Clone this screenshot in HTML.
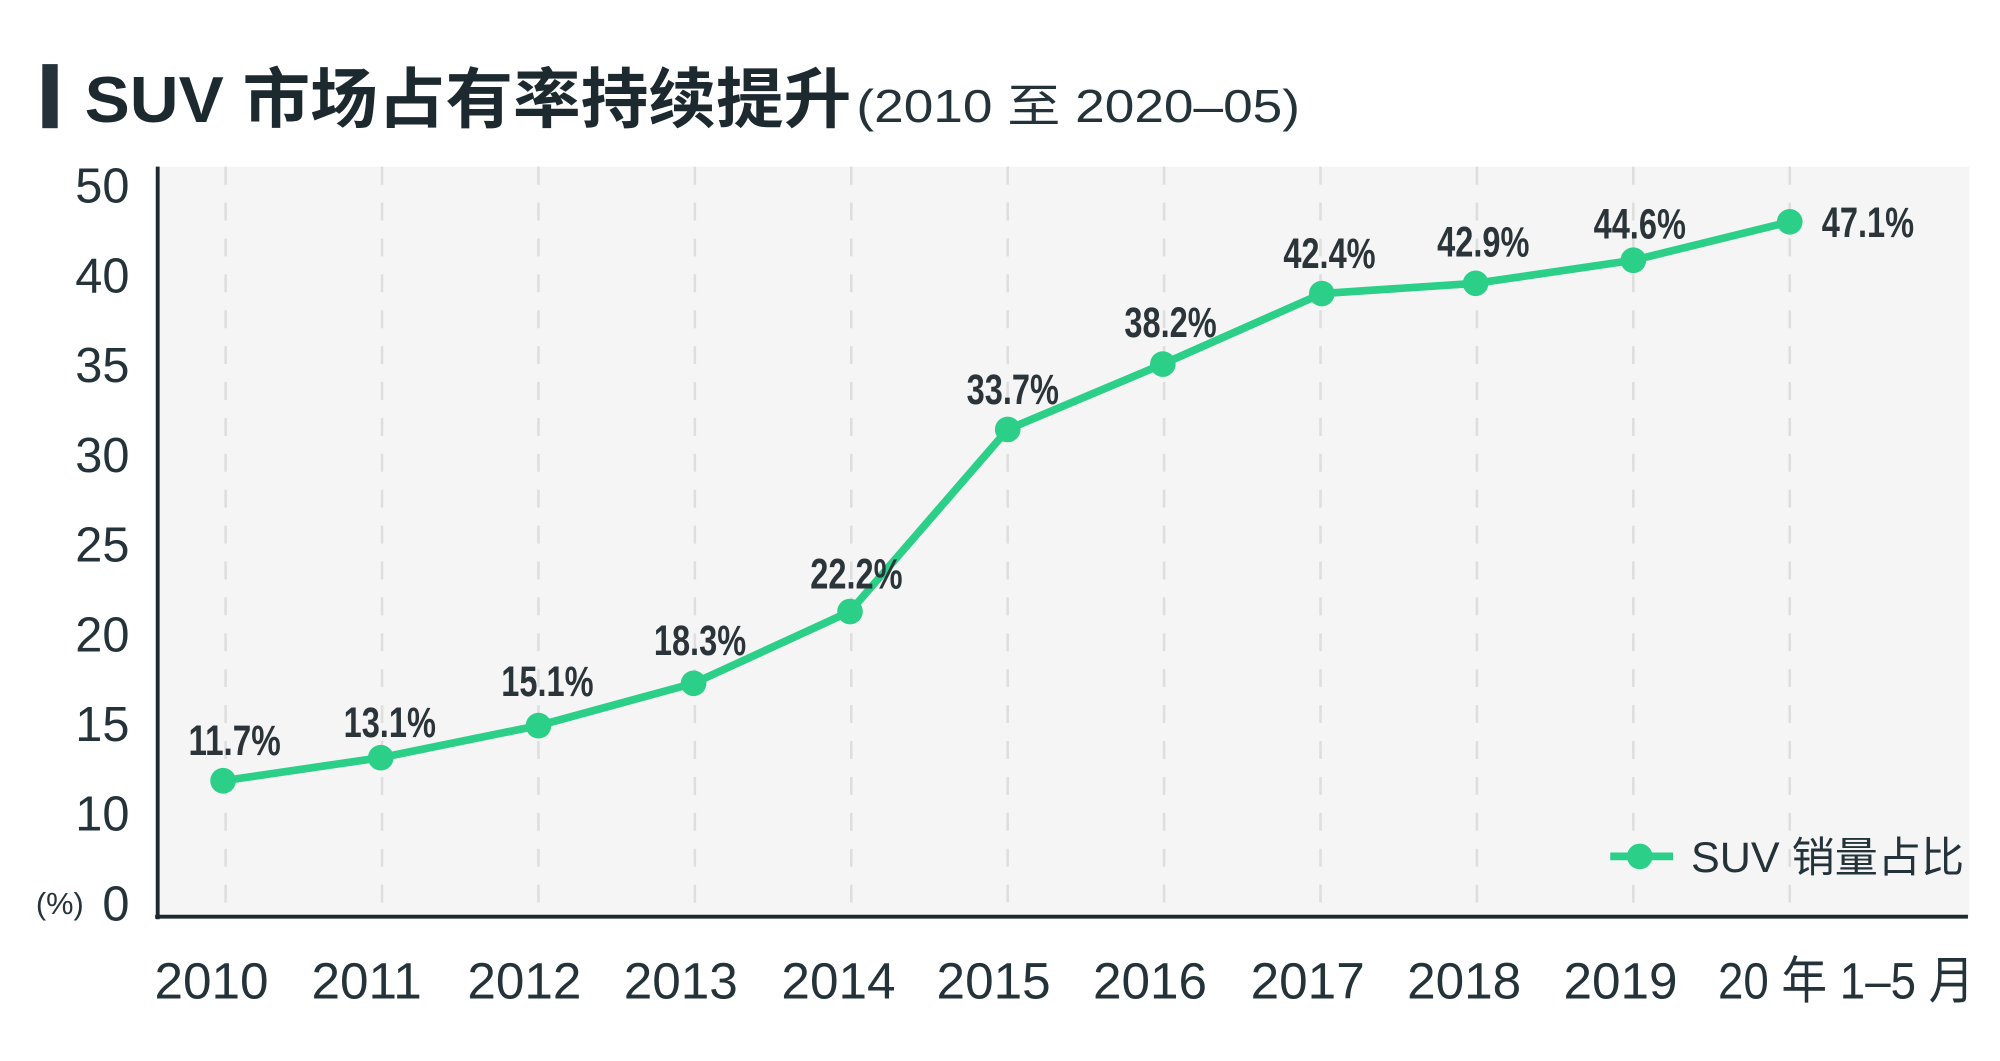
<!DOCTYPE html>
<html><head><meta charset="utf-8"><style>
html,body{margin:0;padding:0;background:#fff;}
svg{display:block;}
text{font-family:"Liberation Sans","Noto Sans CJK SC",sans-serif;fill:#24333a;}
.d{font-family:"Liberation Sans Narrow","Liberation Sans","Noto Sans CJK SC",sans-serif;font-weight:bold;font-size:33px;fill:#2a3439;}
</style></head><body>
<svg width="2000" height="1061" viewBox="0 0 1560 827.6" preserveAspectRatio="none" xmlns="http://www.w3.org/2000/svg">
<rect x="33" y="50" width="12" height="50" fill="#24333a"/>
<text x="66" y="95" font-size="51" textLength="598" lengthAdjust="spacingAndGlyphs" style="fill:#1c2a30;font-weight:bold">SUV 市场占有率持续提升</text>
<text x="668" y="95" font-size="36" textLength="346" lengthAdjust="spacingAndGlyphs">(2010 至 2020–05)</text>
<rect x="123" y="130" width="1413" height="586" fill="#f5f5f5"/>
<g stroke="#dedede" stroke-width="2" stroke-dasharray="14,14">
<line x1="176" y1="130" x2="176" y2="716"/><line x1="298" y1="130" x2="298" y2="716"/><line x1="420" y1="130" x2="420" y2="716"/><line x1="542" y1="130" x2="542" y2="716"/><line x1="664" y1="130" x2="664" y2="716"/><line x1="786" y1="130" x2="786" y2="716"/><line x1="908" y1="130" x2="908" y2="716"/><line x1="1030" y1="130" x2="1030" y2="716"/><line x1="1152" y1="130" x2="1152" y2="716"/><line x1="1274" y1="130" x2="1274" y2="716"/><line x1="1396" y1="130" x2="1396" y2="716"/>
</g>
<line x1="123" y1="130" x2="123" y2="717" stroke="#1c2a30" stroke-width="3"/>
<line x1="121" y1="715" x2="1535" y2="715" stroke="#1c2a30" stroke-width="3"/>
<g font-size="38" text-anchor="end">
<text x="101" y="158">50</text><text x="101" y="228">40</text><text x="101" y="298">35</text><text x="101" y="368">30</text><text x="101" y="438">25</text><text x="101" y="508">20</text><text x="101" y="578">15</text><text x="101" y="648">10</text><text x="101" y="718">0</text>
</g>
<text x="28" y="713" font-size="24">(%)</text>
<g font-size="40" text-anchor="middle">
<text x="165" y="779">2010</text><text x="286" y="779">2011</text><text x="409" y="779">2012</text><text x="531" y="779">2013</text><text x="654" y="779">2014</text><text x="775" y="779">2015</text><text x="897" y="779">2016</text><text x="1020" y="779">2017</text><text x="1142" y="779">2018</text><text x="1264" y="779">2019</text><text x="1440" y="779" textLength="200" lengthAdjust="spacingAndGlyphs">20 年 1–5 月</text>
</g>
<polyline fill="none" stroke="#2bcf88" stroke-width="6" stroke-linejoin="round" points="174,609 297,591 420,566 541,533 663,477 786,335 907,284 1031,229 1151,221 1274,203 1396,173"/>
<g fill="#2bcf88">
<circle cx="174" cy="609" r="10"/><circle cx="297" cy="591" r="10"/><circle cx="420" cy="566" r="10"/><circle cx="541" cy="533" r="10"/><circle cx="663" cy="477" r="10"/><circle cx="786" cy="335" r="10"/><circle cx="907" cy="284" r="10"/><circle cx="1031" cy="229" r="10"/><circle cx="1151" cy="221" r="10"/><circle cx="1274" cy="203" r="10"/><circle cx="1396" cy="173" r="10"/>
</g>
<g text-anchor="middle">
<text class="d" x="183" y="589" textLength="72" lengthAdjust="spacingAndGlyphs">11.7%</text><text class="d" x="304" y="575" textLength="72" lengthAdjust="spacingAndGlyphs">13.1%</text><text class="d" x="427" y="543" textLength="72" lengthAdjust="spacingAndGlyphs">15.1%</text><text class="d" x="546" y="511" textLength="72" lengthAdjust="spacingAndGlyphs">18.3%</text><text class="d" x="668" y="459" textLength="72" lengthAdjust="spacingAndGlyphs">22.2%</text><text class="d" x="790" y="315" textLength="72" lengthAdjust="spacingAndGlyphs">33.7%</text><text class="d" x="913" y="263" textLength="72" lengthAdjust="spacingAndGlyphs">38.2%</text><text class="d" x="1037" y="209" textLength="72" lengthAdjust="spacingAndGlyphs">42.4%</text><text class="d" x="1157" y="200" textLength="72" lengthAdjust="spacingAndGlyphs">42.9%</text><text class="d" x="1279" y="186" textLength="72" lengthAdjust="spacingAndGlyphs">44.6%</text><text class="d" x="1457" y="185" textLength="72" lengthAdjust="spacingAndGlyphs">47.1%</text>
</g>
<line x1="1256" y1="668" x2="1305" y2="668" stroke="#2bcf88" stroke-width="6"/>
<circle cx="1279" cy="668" r="10" fill="#2bcf88"/>
<text x="1319" y="680" font-size="33" textLength="213" lengthAdjust="spacingAndGlyphs">SUV 销量占比</text>
</svg>
</body></html>
